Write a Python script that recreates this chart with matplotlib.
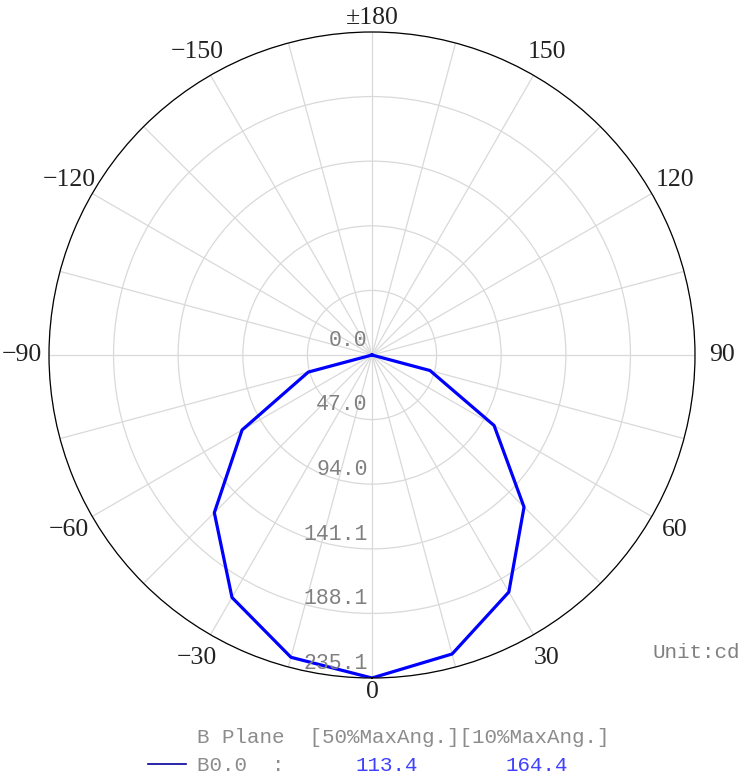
import matplotlib.pyplot as plt
import numpy as np

# luminous intensity (cd) of plane B0.0, every 15 degrees from -90 to 90
angles = [-90, -75, -60, -45, -30, -15, 0, 15, 30, 45, 60, 75, 90]
intensity = [0.0, 48.0, 109.2, 162.3, 203.8, 227.8, 235.1, 225.3, 199.2, 156.5, 102.6, 43.7, 0.0]

ring_values = [0.0, 47.0, 94.0, 141.1, 188.1, 235.1]
ring_labels = ["0.0", "47.0", "94.0", "141.1", "188.1", "235.1"]

angle_ticks = list(range(0, 360, 15))
label_angles = [0, 30, 60, 90, 120, 150, 180, 210, 240, 270, 300, 330]
label_texts = ["0", "30", "60", "90", "120", "150", "\u00b1180",
               "\u2212150", "\u2212120", "\u221290", "\u221260", "\u221230"]

plane_name = "B0.0"
half_angle = "113.4"
tenth_angle = "164.4"

fig = plt.figure(figsize=(7.4, 7.84), dpi=100)
ax = fig.add_axes([0.0662, 0.1352, 0.873, 0.824], projection="polar")
ax.set_theta_zero_location("S")
ax.set_theta_direction(1)

ax.plot(np.deg2rad(angles), intensity, color="#0000ff", lw=2.3)

rmax = ring_values[-1]
ax.set_ylim(0, rmax)
ax.set_yticks(ring_values[1:])
ax.set_yticklabels([])
ax.set_xticks(np.deg2rad(angle_ticks))
ax.set_xticklabels([])
ax.grid(True, color="#d9d9d9", lw=0.9)
ax.spines["polar"].set_color("black")
ax.spines["polar"].set_linewidth(0.9)

# angle labels sit on a ring just outside the frame
for a, lab in zip(label_angles, label_texts):
    r = rmax * (1.043 if a in (0, 180) else 1.083)
    ax.text(np.deg2rad(a), r, lab, ha="center", va="center", clip_on=False,
            fontfamily="Liberation Serif", fontsize=18.5, color="#222222")

mono = "Liberation Mono"
for v, lab in zip(ring_values, ring_labels):
    ax.annotate(lab, xy=(0, v), xytext=(-3, 3), textcoords="offset points",
                ha="right", va="bottom", fontfamily=mono, fontsize=15.5,
                color="#808080")

fig.text(652 / 740, 1 - 658 / 784, "Unit:cd", fontfamily=mono, fontsize=15,
         color="#808080", ha="left", va="baseline")
fig.text(197 / 740, 1 - 743 / 784, "B Plane  [50%MaxAng.][10%MaxAng.]",
         fontfamily=mono, fontsize=15, color="#8c8c8c", ha="left", va="baseline")
fig.add_artist(plt.Line2D([148 / 740, 186 / 740], [1 - 764 / 784, 1 - 764 / 784],
                          color="#000099", lw=1.2))
fig.text(197 / 740, 1 - 771 / 784, plane_name + "  :", fontfamily=mono,
         fontsize=15, color="#8c8c8c", ha="left", va="baseline")
fig.text(355 / 740, 1 - 771 / 784, half_angle, fontfamily=mono, fontsize=15,
         color="#4040ff", ha="left", va="baseline")
fig.text(505 / 740, 1 - 771 / 784, tenth_angle, fontfamily=mono, fontsize=15,
         color="#4040ff", ha="left", va="baseline")

fig.savefig("out.png", dpi=100, facecolor="white")
